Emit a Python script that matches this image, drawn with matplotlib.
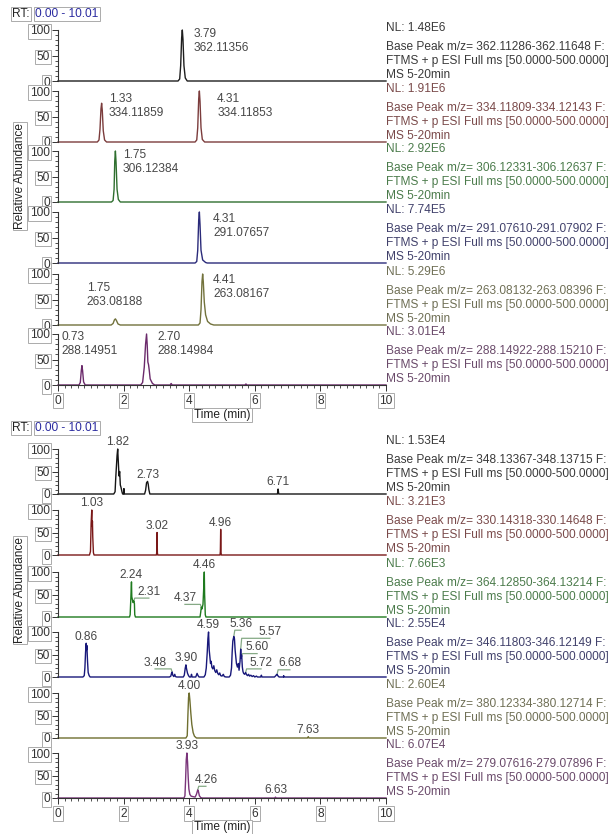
import numpy as np
import matplotlib
matplotlib.use('Agg')
import matplotlib.pyplot as plt
from matplotlib.ticker import FixedLocator, MultipleLocator

plt.rcParams['font.family'] = ['Liberation Sans', 'DejaVu Sans']

# ---------------- upper block: extracted ion chromatograms ----------------
rt_362 = [0, 3.66, 3.71, 3.74, 3.77, 3.79, 3.81, 3.84, 3.88, 3.94, 10]
ab_362 = [0, 0, 4, 30, 85, 100, 82, 30, 6, 0, 0]

rt_334 = [0, 1.20, 1.25, 1.28, 1.31, 1.33, 1.35, 1.38, 1.42, 1.48,
          4.18, 4.23, 4.26, 4.29, 4.31, 4.33, 4.36, 4.40, 4.47, 10]
ab_334 = [0, 0, 4, 25, 65, 76, 62, 22, 4, 0,
          0, 4, 28, 85, 100, 80, 28, 5, 0, 0]

rt_306 = [0, 1.63, 1.68, 1.71, 1.73, 1.75, 1.77, 1.80, 1.84, 1.90, 10]
ab_306 = [0, 0, 3, 25, 80, 100, 78, 25, 5, 0, 0]

rt_291 = [0, 4.18, 4.23, 4.26, 4.29, 4.31, 4.33, 4.36, 4.41, 4.50, 4.55, 10]
ab_291 = [0, 0, 3, 25, 85, 100, 75, 25, 6, 1, 0, 0]

rt_263 = [0, 1.62, 1.68, 1.72, 1.75, 1.78, 1.83, 1.90,
          4.28, 4.33, 4.36, 4.39, 4.41, 4.43, 4.46, 4.50, 4.56, 4.65, 4.75, 10]
ab_263 = [0, 0, 3, 10, 12, 9, 2, 0,
          0, 4, 30, 85, 100, 85, 45, 20, 7, 2, 0, 0]

rt_288 = [0, 0.64, 0.68, 0.71, 0.73, 0.75, 0.78, 0.83,
          2.52, 2.58, 2.63, 2.67, 2.70, 2.72, 2.74, 2.76, 2.78, 2.81, 2.84, 2.88, 2.95,
          3.42, 3.45, 3.48, 5.70, 5.73, 5.76, 10]
ab_288 = [0, 0, 5, 28, 38, 28, 6, 0,
          0, 5, 35, 80, 100, 78, 45, 40, 30, 12, 8, 3, 0,
          0, 3, 0, 0, 2, 0, 0]

upper_nl = ['1.48E6', '1.91E6', '2.92E6', '7.74E5', '5.29E6', '3.01E4']
upper_range = ['362.11286-362.11648', '334.11809-334.12143', '306.12331-306.12637',
               '291.07610-291.07902', '263.08132-263.08396', '288.14922-288.15210']
upper_peaks = [[(3.79, '362.11356')],
               [(1.33, '334.11859'), (4.31, '334.11853')],
               [(1.75, '306.12384')],
               [(4.31, '291.07657')],
               [(1.75, '263.08188'), (4.41, '263.08167')],
               [(0.73, '288.14951'), (2.70, '288.14984')]]

# ---------------- lower block ----------------
rt_348 = [0, 1.70, 1.74, 1.76, 1.78, 1.80, 1.82, 1.84, 1.86, 1.88, 1.90, 1.92, 1.95, 1.97,
          2.00, 2.01, 2.02, 2.64, 2.67, 2.70, 2.73, 2.75, 2.77, 2.80, 6.69, 6.71, 6.73, 10]
ab_348 = [0, 0, 5, 35, 60, 85, 100, 70, 40, 50, 20, 15, 5, 0,
          0, 12, 0, 0, 8, 25, 28, 22, 10, 0, 0, 11, 0, 0]

rt_330 = [0, 0.96, 0.99, 1.01, 1.02, 1.03, 1.04, 1.05, 1.06, 1.08, 1.10,
          3.00, 3.01, 3.02, 3.03, 3.04, 4.94, 4.95, 4.96, 4.97, 4.98, 10]
ab_330 = [0, 0, 8, 70, 85, 100, 65, 75, 40, 5, 0,
          0, 6, 50, 5, 0, 0, 8, 57, 6, 0, 0]

rt_364 = [0, 2.18, 2.20, 2.22, 2.24, 2.25, 2.27, 2.29, 2.31, 2.33, 2.34, 2.36,
          4.33, 4.35, 4.37, 4.39, 4.42, 4.44, 4.46, 4.47, 4.48, 4.49, 4.51, 10]
ab_364 = [0, 0, 5, 40, 78, 45, 38, 32, 36, 30, 5, 0,
          0, 10, 22, 18, 28, 60, 100, 50, 30, 5, 0, 0]

rt_346 = [0, 0.76, 0.80, 0.82, 0.84, 0.86, 0.87, 0.88, 0.90, 0.92, 0.95, 0.98,
          3.40, 3.44, 3.46, 3.48, 3.50, 3.53, 3.56, 3.58, 3.62,
          3.82, 3.85, 3.88, 3.90, 3.92, 3.95, 3.98, 4.01,
          4.05, 4.07, 4.09, 4.20, 4.24, 4.27, 4.30,
          4.45, 4.49, 4.52, 4.55, 4.57, 4.59, 4.61, 4.63, 4.65, 4.67, 4.69, 4.72,
          4.75, 4.78, 4.81, 4.84, 4.87, 4.90, 4.93, 4.96, 5.00, 5.04, 5.07, 5.12,
          5.22, 5.26, 5.29, 5.31, 5.33, 5.36, 5.38, 5.40, 5.42, 5.44, 5.47, 5.50,
          5.52, 5.55, 5.57, 5.585, 5.60, 5.62, 5.64, 5.66, 5.69, 5.72, 5.75, 5.78,
          5.81, 5.84, 5.88, 5.92, 5.96, 6.00, 6.05, 6.08,
          6.18, 6.20, 6.22, 6.60, 6.64, 6.66, 6.68, 6.70, 6.74, 6.87, 6.88, 6.89, 10]
ab_346 = [0, 0, 3, 20, 55, 75, 60, 70, 35, 10, 3, 0,
          0, 2, 8, 11, 4, 1, 6, 1, 0,
          0, 4, 20, 27, 18, 8, 3, 0,
          0, 6, 0, 0, 8, 3, 0,
          0, 5, 20, 55, 85, 100, 60, 45, 30, 35, 22, 18,
          25, 14, 10, 16, 8, 5, 9, 3, 2, 6, 1, 0,
          0, 4, 20, 55, 80, 90, 85, 60, 45, 30, 22, 30,
          15, 35, 62, 42, 48, 22, 12, 8, 6, 10, 5, 3,
          6, 2, 4, 1, 3, 0, 2, 0,
          0, 4, 0, 0, 3, 5, 6, 3, 0, 0, 3, 0, 0]

rt_380 = [0, 3.90, 3.94, 3.96, 3.98, 4.00, 4.02, 4.05, 4.08, 4.12, 4.16, 4.22,
          7.61, 7.63, 7.65, 10]
ab_380 = [0, 0, 5, 50, 90, 100, 85, 55, 30, 12, 4, 0, 0, 3, 0, 0]

rt_279 = [0, 3.84, 3.87, 3.89, 3.91, 3.93, 3.95, 3.97, 3.99, 4.02, 4.06, 4.12,
          4.18, 4.22, 4.26, 4.28, 4.31, 4.35, 4.40, 6.61, 6.63, 6.65, 10]
ab_279 = [0, 0, 5, 40, 85, 100, 80, 45, 20, 8, 4, 3,
          2, 8, 18, 15, 5, 1, 0, 0, 2, 0, 0]

lower_nl = ['1.53E4', '3.21E3', '7.66E3', '2.55E4', '2.60E4', '6.07E4']
lower_range = ['348.13367-348.13715', '330.14318-330.14648', '364.12850-364.13214',
               '346.11803-346.12149', '380.12334-380.12714', '279.07616-279.07896']
lower_peaks = [[1.82, 2.73, 6.71],
               [1.03, 3.02, 4.96],
               [2.24, 2.31, 4.37, 4.46],
               [0.86, 3.48, 3.90, 4.59, 5.36, 5.57, 5.60, 5.72, 6.68],
               [4.00, 7.63],
               [3.93, 4.26, 6.63]]

upper_traces = [(rt_362, ab_362), (rt_334, ab_334), (rt_306, ab_306),
                (rt_291, ab_291), (rt_263, ab_263), (rt_288, ab_288)]
lower_traces = [(rt_348, ab_348), (rt_330, ab_330), (rt_364, ab_364),
                (rt_346, ab_346), (rt_380, ab_380), (rt_279, ab_279)]

# ---------------- layout / style ----------------
W, H, DPI = 611, 834, 100
X0, X1 = 58, 386            # pixel columns of 0 and 10 min
PANEL_H = 60
FS = 8.6
LABEL_C = '#474747'
LEADER_C = '#86aa86'
BOX = dict(boxstyle='square,pad=0.12', fc='white', ec='#ababab', lw=0.7)

upper_base = [81, 142, 202, 263, 325, 385]
lower_base = [494, 555, 617, 677, 738, 798]
upper_colors = ['#1e1e1e', '#7b3c3c', '#2f6f2f', '#2b2b7a', '#72723c', '#6b2a6b']
lower_colors = ['#151515', '#7a1818', '#1e7a1e', '#18187a', '#6f6f30', '#7a357a']
text_colors = ['#3a3a3a', '#7a4a4a', '#4b7b4b', '#41416b', '#6f6f55', '#6a4a6a']

# top-left corner of the two-line peak labels in the upper block (min, %)
upper_label_xy = [[(4.12, 104)], [(1.55, 96), (4.85, 96)], [(1.98, 104)],
                  [(4.73, 98)], [(0.88, 84), (4.73, 100)], [(0.12, 106), (3.02, 106)]]
# displaced labels in the lower block that get a leader line (text centre)
lower_leader_xy = {(2, 2.31): (2.77, 56), (2, 4.37): (3.87, 42),
                   (3, 3.48): (2.96, 32), (3, 5.36): (5.58, 118), (3, 5.57): (6.46, 100),
                   (3, 5.60): (6.07, 66), (3, 5.72): (6.19, 32), (3, 6.68): (7.07, 30),
                   (5, 4.26): (4.51, 40)}
LEADER_DROP = 14            # leader runs this far (in %) below the label centre

fig = plt.figure(figsize=(W / DPI, H / DPI), dpi=DPI)


def make_panel(base, px100, last):
    ax = fig.add_axes([X0 / W, 1 - base / H, (X1 - X0) / W, PANEL_H / H])
    ax.patch.set_alpha(0)
    ax.set_xlim(0, 10)
    ax.set_ylim(0, 100 * PANEL_H / px100)
    for s in ['top', 'right']:
        ax.spines[s].set_visible(False)
    ax.spines['left'].set_bounds(0, 100)
    ax.spines['left'].set_color('#333333')
    ax.spines['left'].set_linewidth(0.8)
    ax.set_yticks([0, 50, 100])
    ax.yaxis.set_minor_locator(FixedLocator(np.arange(10, 100, 10)))
    ax.tick_params(axis='y', which='major', length=4, width=0.7, pad=2,
                   labelsize=FS, colors='#333333')
    ax.tick_params(axis='y', which='minor', length=2, width=0.6, colors='#333333')
    for tk in ax.yaxis.get_major_ticks():
        tk.label1.set_bbox(BOX)
    if last:
        ax.spines['bottom'].set_color('#333333')
        ax.spines['bottom'].set_linewidth(0.8)
        ax.set_xticks([0, 2, 4, 6, 8, 10])
        ax.xaxis.set_minor_locator(MultipleLocator(0.2))
        ax.tick_params(axis='x', which='major', length=4, width=0.7, pad=3,
                       labelsize=FS, colors='#333333')
        ax.tick_params(axis='x', which='minor', length=2.5, width=0.6, colors='#333333')
        for tk in ax.xaxis.get_major_ticks():
            tk.label1.set_bbox(BOX)
    else:
        ax.spines['bottom'].set_visible(False)
        ax.set_xticks([])
    return ax


def side_text(base, nl, mzr, color):
    x = X1 / W
    fig.text(x, 1 - (base - 53) / H, f'NL: {nl}', fontsize=FS, color=color, va='center')
    lines = [f'Base Peak m/z= {mzr} F:', 'FTMS + p ESI Full ms [50.0000-500.0000]',
             'MS 5-20min']
    for k, s in enumerate(lines):
        fig.text(x, 1 - (base - 34 + 14 * k) / H, s, fontsize=FS, color=color, va='center')


def block_frame(top, label_y, time_y):
    fig.text(12 / W, 1 - top / H, 'RT:', fontsize=FS, va='center', color='#222222', bbox=BOX)
    fig.text(35 / W, 1 - top / H, '0.00 - 10.01', fontsize=FS, va='center',
             color='#2a2aa0', bbox=BOX)
    fig.text(20 / W, 1 - label_y / H, 'Relative Abundance', fontsize=FS, rotation=90,
             ha='center', va='center', color='#222222', bbox=BOX)
    fig.text((X0 + X1) / 2 / W, 1 - time_y / H, 'Time (min)', fontsize=FS,
             ha='center', va='center', color='#222222', bbox=BOX)


# upper block
for i, (t, a) in enumerate(upper_traces):
    ax = make_panel(upper_base[i], 51, i == 5)
    ax.plot(t, a, color=upper_colors[i], lw=1.0, clip_on=False)
    for (rt, mz), (tx, ty) in zip(upper_peaks[i], upper_label_xy[i]):
        ax.text(tx, ty, f'{rt:.2f}\n{mz}', fontsize=FS, color=LABEL_C,
                ha='left', va='top', clip_on=False)
    side_text(upper_base[i], upper_nl[i], upper_range[i], text_colors[i])
block_frame(14, 176, 415)

# lower block
for i, (t, a) in enumerate(lower_traces):
    ax = make_panel(lower_base[i], 45, i == 5)
    ax.plot(t, a, color=lower_colors[i], lw=1.0, clip_on=False)
    for rt in lower_peaks[i]:
        h = np.interp(rt, t, a)
        if (i, rt) in lower_leader_xy:
            tx, ty = lower_leader_xy[(i, rt)]
            ax.text(tx, ty, f'{rt:.2f}', fontsize=FS, color=LABEL_C,
                    ha='center', va='center', clip_on=False)
            near = rt + 0.03 * np.sign(tx - rt)
            ly = ty - LEADER_DROP
            ax.plot([tx, near, rt], [ly, ly, h], color=LEADER_C, lw=0.9,
                    clip_on=False, zorder=1)
        else:
            ax.annotate(f'{rt:.2f}', xy=(rt, h), xytext=(0, 0.5),
                        textcoords='offset points', fontsize=FS, color=LABEL_C,
                        ha='center', va='bottom', annotation_clip=False)
    side_text(lower_base[i], lower_nl[i], lower_range[i], text_colors[i])
block_frame(428, 590, 827)

fig.savefig('out.png', dpi=DPI, facecolor='white')
